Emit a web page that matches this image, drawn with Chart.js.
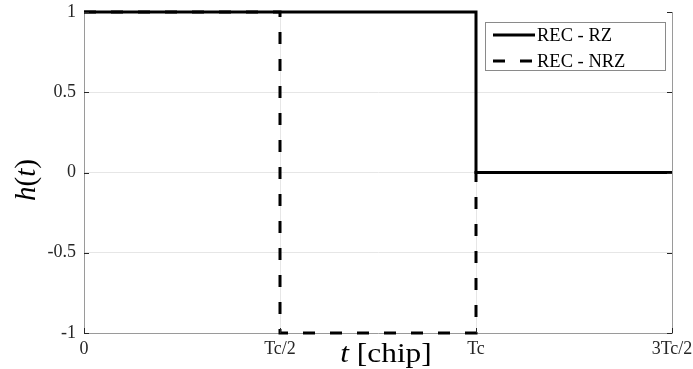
<!DOCTYPE html>
<html>
<head>
<meta charset="utf-8">
<script src="https://cdn.jsdelivr.net/npm/chart.js@4/dist/chart.umd.min.js"></script>
<style>
  html, body { margin: 0; padding: 0; background: #fff; }
  #wrap { width: 693px; height: 369px; position: relative; }
</style>
</head>
<body>
<div id="wrap"><canvas id="c"></canvas></div>
<script>
// Time axis positions (in chips) and their labels
const tickPositions = [0, 0.5, 1, 1.5];
const tickLabels = ['0', 'Tc/2', 'Tc', '3Tc/2'];

// REC - RZ pulse shape
const rzT = [0, 1, 1, 1.5];
const rzH = [1, 1, 0, 0];

// REC - NRZ pulse shape
const nrzT = [0, 0.5, 0.5, 1, 1, 1.5];
const nrzH = [1, 1, -1, -1, 0, 0];

const seriesNames = ['REC - RZ', 'REC - NRZ'];

const FONT = "'Liberation Serif', 'Times New Roman', serif";
const toPoints = (xs, ys) => xs.map((x, i) => ({ x: x, y: ys[i] }));

// Inward tick marks, right-hand box edge, axis titles and legend
const decorations = {
  id: 'decorations',
  afterDraw(chart) {
    const ctx = chart.ctx;
    const a = chart.chartArea;
    const xs = chart.scales.x, ys = chart.scales.y;
    ctx.save();
    // right box edge
    ctx.strokeStyle = '#9a9a9a';
    ctx.lineWidth = 1;
    ctx.beginPath();
    ctx.moveTo(a.right + 0.5, a.top);
    ctx.lineTo(a.right + 0.5, a.bottom);
    ctx.stroke();
    // inward ticks
    ctx.strokeStyle = '#262626';
    ctx.lineWidth = 1;
    const tl = 5;
    ys.ticks.forEach(t => {
      const py = Math.round(ys.getPixelForValue(t.value)) + 0.5;
      ctx.beginPath();
      ctx.moveTo(a.left, py); ctx.lineTo(a.left + tl, py);
      ctx.moveTo(a.right, py); ctx.lineTo(a.right - tl, py);
      ctx.stroke();
    });
    xs.ticks.forEach(t => {
      const px = Math.round(xs.getPixelForValue(t.value)) + 0.5;
      ctx.beginPath();
      ctx.moveTo(px, a.bottom); ctx.lineTo(px, a.bottom - tl);
      ctx.stroke();
    });

    // mixed-style text helper
    const drawParts = (parts, size) => {
      let total = 0;
      parts.forEach(p => {
        ctx.font = (p.it ? 'italic ' : '') + size + 'px ' + FONT;
        p.w = ctx.measureText(p.s).width;
        total += p.w;
      });
      let x = -total / 2;
      parts.forEach(p => {
        ctx.font = (p.it ? 'italic ' : '') + size + 'px ' + FONT;
        ctx.fillText(p.s, x, 0);
        x += p.w;
      });
    };
    ctx.fillStyle = '#000';
    ctx.textAlign = 'left';
    ctx.textBaseline = 'alphabetic';

    // x axis title
    ctx.save();
    ctx.translate(386, 362);
    ctx.scale(1.12, 1);
    drawParts([{ s: 't', it: true }, { s: ' [chip]', it: false }], 28);
    ctx.restore();

    // y axis title
    ctx.save();
    ctx.translate(35, 180);
    ctx.rotate(-Math.PI / 2);
    drawParts([{ s: 'h', it: true }, { s: '(', it: false }, { s: 't', it: true }, { s: ')', it: false }], 29);
    ctx.restore();

    // legend
    const lx = 485, ly = 22, lw = 180, lh = 48;
    ctx.fillStyle = '#fff';
    ctx.fillRect(lx, ly, lw, lh);
    ctx.strokeStyle = '#8a8a8a';
    ctx.lineWidth = 1;
    ctx.strokeRect(lx + 0.5, ly + 0.5, lw, lh);
    const rows = [35, 61];
    chart.data.datasets.forEach((ds, i) => {
      ctx.strokeStyle = '#000';
      ctx.lineWidth = 3;
      ctx.setLineDash(ds.borderDash || []);
      ctx.beginPath();
      ctx.moveTo(493, rows[i]);
      ctx.lineTo(535, rows[i]);
      ctx.stroke();
      ctx.setLineDash([]);
      ctx.fillStyle = '#000';
      ctx.font = '18.5px ' + FONT;
      ctx.textBaseline = 'middle';
      ctx.fillText(ds.label, 537, rows[i] + 1);
    });
    ctx.restore();
  }
};

new Chart(document.getElementById('c'), {
  type: 'line',
  data: {
    datasets: [
      {
        label: seriesNames[0],
        data: toPoints(rzT, rzH),
        borderColor: '#000',
        borderWidth: 3,
        pointRadius: 0,
        tension: 0,
        clip: false
      },
      {
        label: seriesNames[1],
        data: toPoints(nrzT, nrzH),
        borderColor: '#000',
        borderWidth: 3,
        borderDash: [12, 15],
        pointRadius: 0,
        tension: 0,
        clip: false
      }
    ]
  },
  options: {
    responsive: true,
    maintainAspectRatio: false,
    animation: false,
    events: [],
    layout: { padding: { top: 12, right: 21, left: 0, bottom: 0 } },
    plugins: { legend: { display: false }, tooltip: { enabled: false } },
    scales: {
      x: {
        type: 'linear',
        min: 0,
        max: 1.5,
        afterFit: s => { s.height = 36; s.paddingLeft = 0; s.paddingRight = 0; },
        afterBuildTicks: s => { s.ticks = tickPositions.map(v => ({ value: v })); },
        ticks: {
          padding: 5,
          color: '#262626',
          font: { family: FONT, size: 18 },
          maxRotation: 0,
          callback: v => tickLabels[tickPositions.indexOf(v)]
        },
        grid: {
          drawTicks: false,
          color: ctx => (ctx.tick && (ctx.tick.value === 0 || ctx.tick.value === 1.5)) ? 'rgba(0,0,0,0)' : '#e6e6e6'
        },
        border: { color: '#9a9a9a', width: 1 }
      },
      y: {
        min: -1,
        max: 1,
        afterFit: s => { s.width = 84; s.paddingTop = 0; s.paddingBottom = 0; },
        ticks: {
          stepSize: 0.5,
          padding: 8,
          color: '#262626',
          font: { family: FONT, size: 18 },
          callback: v => String(v)
        },
        grid: {
          drawTicks: false,
          color: ctx => (ctx.tick && (ctx.tick.value === 1 || ctx.tick.value === -1)) ? 'rgba(0,0,0,0)' : '#e6e6e6'
        },
        border: { color: '#9a9a9a', width: 1 }
      }
    }
  },
  plugins: [decorations]
});
</script>
</body>
</html>
